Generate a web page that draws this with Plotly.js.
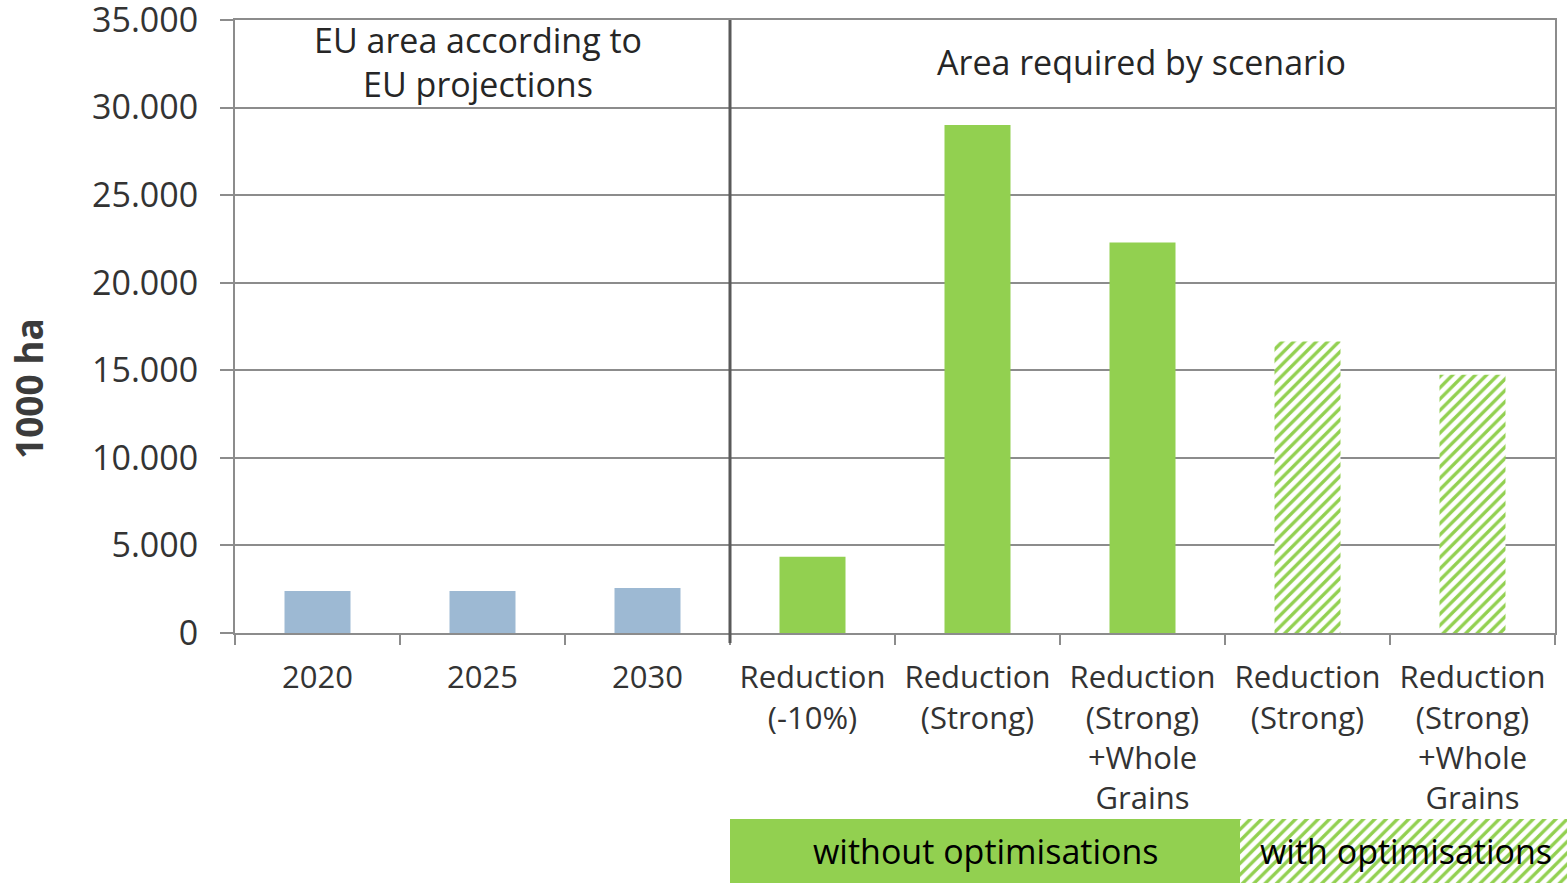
<!DOCTYPE html>
<html>
<head>
<meta charset="utf-8">
<script src="https://cdn.plot.ly/plotly-3.0.1.min.js"></script>
<style>
  html, body { margin: 0; padding: 0; background: #fff; }
  #chart { width: 1567px; height: 883px; }
</style>
</head>
<body>
<div id="chart"></div>
<script>
// Category ids (unique) and their printed labels
const categoryIds = ['y2020', 'y2025', 'y2030', 'red10', 'redStrong', 'redStrongWG', 'redStrongOpt', 'redStrongWGOpt'];
const tickLabels = [
  '2020', '2025', '2030',
  'Reduction<br>(-10%)',
  'Reduction<br>(Strong)',
  'Reduction<br>(Strong)<br>+Whole<br>Grains',
  'Reduction<br>(Strong)',
  'Reduction<br>(Strong)<br>+Whole<br>Grains'
];

// Area in 1000 ha
const euCategories = ['y2020', 'y2025', 'y2030'];
const euArea = [2400, 2400, 2570];

const plainCategories = ['red10', 'redStrong', 'redStrongWG'];
const plainArea = [4350, 29000, 22300];

const optCategories = ['redStrongOpt', 'redStrongWGOpt'];
const optArea = [16650, 14750];

const bandLabels = ['without optimisations', 'with optimisations'];

const GREEN = '#92D050';
const BLUE = '#9DB9D3';
const GRID = '#8c8c8c';
const TEXT = '#262626';
const FONT = 'Open Sans, sans-serif';

const hatch = { shape: '/', fgcolor: GREEN, bgcolor: '#ffffff', size: 8, solidity: 0.42, fillmode: 'replace' };

// figure geometry (px)
const W = 1567, H = 883;
const L = 235, plotW = 1320, totalW = W - L;
const yTopPx = 20, yBotPx = 633;
const px2paperY = p => 1 - p / H;
const px2paperX = p => (p - L) / totalW;

// bottom band segments (px widths) starting at the scenario divider
const bandStartPx = 730;
const bandWidths = [510, 327];
const bandBases = [0, bandWidths[0]];

const traces = [
  {
    type: 'bar', x: euCategories, y: euArea, width: 0.4,
    marker: { color: BLUE }, showlegend: false
  },
  {
    type: 'bar', x: plainCategories, y: plainArea, width: 0.4,
    marker: { color: GREEN }, showlegend: false
  },
  {
    type: 'bar', x: optCategories, y: optArea, width: 0.4,
    marker: { color: GREEN, pattern: hatch }, showlegend: false
  },
  // legend band below the axis
  {
    type: 'bar', orientation: 'h', xaxis: 'x2', yaxis: 'y2',
    y: [0], x: [bandWidths[0]], base: [bandBases[0]], width: 1,
    marker: { color: GREEN, line: { width: 0 } }, hoverinfo: 'skip', showlegend: false
  },
  {
    type: 'bar', orientation: 'h', xaxis: 'x2', yaxis: 'y2',
    y: [0], x: [bandWidths[1]], base: [bandBases[1]], width: 1,
    marker: { color: GREEN, pattern: hatch, line: { width: 0 } }, hoverinfo: 'skip', showlegend: false
  }
];

const layout = {
  width: W, height: H,
  margin: { l: L, r: 0, t: 0, b: 0, pad: 0 },
  paper_bgcolor: '#ffffff', plot_bgcolor: '#ffffff',
  separators: ',.',
  barmode: 'overlay',
  font: { family: FONT, color: TEXT },
  xaxis: {
    type: 'category',
    domain: [0, plotW / totalW],
    categoryorder: 'array', categoryarray: categoryIds,
    tickmode: 'array', tickvals: categoryIds, ticktext: tickLabels,
    tickson: 'boundaries',
    ticks: 'outside', ticklen: 10, tickwidth: 2, tickcolor: GRID,
    ticklabelstandoff: 16,
    showline: true, linecolor: GRID, linewidth: 2, mirror: true,
    showgrid: false, zeroline: false,
    tickfont: { family: FONT, size: 31, color: '#333333' },
    anchor: 'y', fixedrange: true
  },
  yaxis: {
    domain: [px2paperY(yBotPx), px2paperY(yTopPx)],
    range: [0, 35000], dtick: 5000, tick0: 0,
    tickformat: ',d',
    showgrid: true, gridcolor: GRID, gridwidth: 2,
    showline: true, linecolor: GRID, linewidth: 2, mirror: true,
    ticks: 'outside', ticklen: 13, tickwidth: 2, tickcolor: GRID,
    ticklabelstandoff: 15, ticklabeloverflow: 'allow',
    zeroline: false,
    tickfont: { family: FONT, size: 34, color: '#333333' },
    anchor: 'x', fixedrange: true
  },
  xaxis2: {
    domain: [px2paperX(bandStartPx), 1],
    range: [0, W - bandStartPx],
    visible: false, anchor: 'y2', fixedrange: true
  },
  yaxis2: {
    domain: [0, 64 / H],
    range: [-0.5, 0.5],
    visible: false, anchor: 'x2', fixedrange: true
  },
  shapes: [
    {
      type: 'line', xref: 'x', x0: 2.5, x1: 2.5,
      yref: 'paper', y0: px2paperY(643), y1: px2paperY(yTopPx),
      line: { color: '#595959', width: 3 }
    }
  ],
  annotations: [
    {
      xref: 'paper', yref: 'paper', x: px2paperX(478), y: px2paperY(62),
      xanchor: 'center', yanchor: 'middle',
      text: 'EU area according to<br>EU projections', showarrow: false,
      font: { family: FONT, size: 34, color: TEXT }, align: 'center'
    },
    {
      xref: 'paper', yref: 'paper', x: px2paperX(1141), y: px2paperY(62),
      xanchor: 'center', yanchor: 'middle',
      text: 'Area required by scenario', showarrow: false,
      font: { family: FONT, size: 34, color: TEXT }
    },
    {
      xref: 'paper', yref: 'paper', x: px2paperX(28), y: px2paperY(389),
      xanchor: 'center', yanchor: 'middle',
      text: '<b>1000 ha</b>', showarrow: false, textangle: -90,
      font: { family: FONT, size: 37, color: '#3b3b3b' }
    },
    {
      xref: 'x2', yref: 'y2', x: bandBases[0] + bandWidths[0] / 2, y: 0,
      xanchor: 'center', yanchor: 'middle',
      text: bandLabels[0], showarrow: false,
      font: { family: FONT, size: 34, color: '#000000' }
    },
    {
      xref: 'x2', yref: 'y2', x: 676, y: 0,
      xanchor: 'center', yanchor: 'middle',
      text: bandLabels[1], showarrow: false,
      font: { family: FONT, size: 34, color: '#000000' }
    }
  ]
};

Plotly.newPlot('chart', traces, layout, { staticPlot: true, displayModeBar: false });
</script>
</body>
</html>
